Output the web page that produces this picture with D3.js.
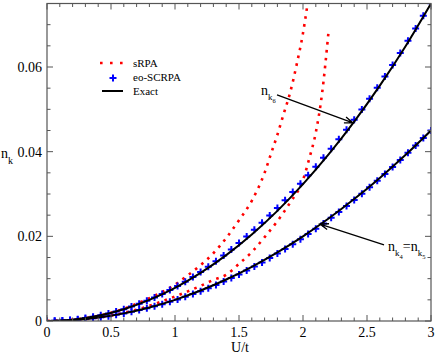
<!DOCTYPE html>
<html lang="en">
<head>
  <meta charset="UTF-8">
  <title>n_k vs U/t</title>
  <script src="https://d3js.org/d3.v7.min.js"></script>
  <style>
    body {
      margin: 0;
      background: #fff;
    }
    svg {
      font-family: "Liberation Serif", "Times New Roman", "DejaVu Serif", serif;
    }
    .tick-label {
      font-size: 14px;
    }
  </style>
</head>
<body>
  <svg width="436" height="354"></svg>

  <script>
    // exact curves, U/t step 0.2
    const uExact = [0, 0.2, 0.4, 0.6, 0.8, 1.0, 1.2, 1.4, 1.6, 1.8, 2.0, 2.2, 2.4, 2.6, 2.8, 3.0];
    const exactK6 = [0, 0.00031, 0.00123, 0.00279, 0.00499, 0.00784, 0.01136, 0.01555, 0.02044,
                     0.02602, 0.03232, 0.03934, 0.04709, 0.05559, 0.06485, 0.075];
    const exactK4 = [0, 0.0002, 0.0008, 0.0018, 0.0032, 0.005, 0.0072, 0.0098, 0.0128,
                     0.0162, 0.02, 0.0242, 0.0288, 0.0338, 0.0392, 0.045];

    // eo-SCRPA markers, U/t step 0.06
    const uEo = [0, 0.06, 0.12, 0.18, 0.24, 0.30, 0.36, 0.42, 0.48, 0.54, 0.60, 0.66, 0.72, 0.78,
                 0.84, 0.90, 0.96, 1.02, 1.08, 1.14, 1.20, 1.26, 1.32, 1.38, 1.44, 1.50, 1.56,
                 1.62, 1.68, 1.74, 1.80, 1.86, 1.92, 1.98, 2.04, 2.10, 2.16, 2.22, 2.28, 2.34,
                 2.40, 2.46, 2.52, 2.58, 2.64, 2.70, 2.76, 2.82, 2.88, 2.94, 3.00];
    const eoK6 = [0, 0.00003, 0.00011, 0.00025, 0.00044, 0.00069, 0.001, 0.00136, 0.00178,
                  0.00226, 0.0028, 0.0034, 0.00406, 0.00478, 0.00556, 0.0064, 0.0073, 0.00827,
                  0.0093, 0.0104, 0.01157, 0.01281, 0.01411, 0.01547, 0.0169, 0.0184, 0.01995,
                  0.02155, 0.02322, 0.02494, 0.02672, 0.02855, 0.03045, 0.0324, 0.0344, 0.03645,
                  0.03855, 0.0407, 0.04292, 0.0452, 0.04753, 0.04995, 0.0525, 0.0551, 0.05775,
                  0.0605, 0.0633, 0.0662, 0.0691, 0.0721, 0.07505];
    const eoK4 = [0, 0.00002, 0.00007, 0.00016, 0.00029, 0.00045, 0.00065, 0.00088, 0.00115,
                  0.00146, 0.0018, 0.00217, 0.00257, 0.003, 0.00347, 0.00398, 0.00452, 0.0051,
                  0.00571, 0.00636, 0.00704, 0.00776, 0.00852, 0.00931, 0.01014, 0.01101,
                  0.01192, 0.01286, 0.01384, 0.01486, 0.01592, 0.01701, 0.01815, 0.01932,
                  0.02053, 0.02178, 0.02306, 0.02439, 0.02575, 0.02715, 0.02859, 0.03007,
                  0.03158, 0.03313, 0.03472, 0.03635, 0.03802, 0.03972, 0.04147, 0.04323, 0.045];

    // sRPA curves
    const uSrpaK6 = [0, 0.2, 0.4, 0.6, 0.8, 1.0, 1.1, 1.2, 1.3, 1.4, 1.5, 1.6, 1.7, 1.75, 1.8,
                     1.85, 1.9, 1.95, 2.0, 2.05];
    const srpaK6 = [0, 0.0003, 0.0012, 0.0029, 0.0054, 0.0086, 0.0108, 0.0132, 0.016, 0.0196,
                    0.0238, 0.0284, 0.035, 0.0395, 0.044, 0.049, 0.054, 0.0605, 0.068, 0.078];
    const uSrpaK4 = [0, 0.2, 0.4, 0.6, 0.8, 1.0, 1.1, 1.2, 1.3, 1.4, 1.5, 1.6, 1.7, 1.8, 1.9,
                     2.0, 2.05, 2.1, 2.15, 2.2];
    const srpaK4 = [0, 0.0002, 0.0008, 0.0019, 0.0036, 0.0058, 0.007, 0.0083, 0.0097, 0.0109,
                    0.0135, 0.0163, 0.0198, 0.0236, 0.028, 0.0333, 0.0385, 0.0445, 0.054, 0.0685];

    const xTicks = [0, 0.5, 1, 1.5, 2, 2.5, 3];
    const yTicks = [0, 0.02, 0.04, 0.06];

    const svg = d3.select("svg");
    const x = d3.scaleLinear().domain([0, 3]).range([47, 431]);
    const y = d3.scaleLinear().domain([0, 0.075]).range([321, 3.5]);

    const zip = (us, vs) => us.map((u, i) => [u, vs[i]]);

    svg.append("clipPath").attr("id", "plot")
      .append("rect")
        .attr("x", x(0)).attr("y", y(0.075))
        .attr("width", x(3) - x(0)).attr("height", y(0) - y(0.075));

    const plot = svg.append("g").attr("clip-path", "url(#plot)");
    const line = d3.line().x(d => x(d[0])).y(d => y(d[1])).curve(d3.curveMonotoneX);

    // sRPA dotted
    [zip(uSrpaK6, srpaK6), zip(uSrpaK4, srpaK4)].forEach(pts => {
      plot.append("path")
        .attr("d", line(pts))
        .attr("fill", "none")
        .attr("stroke", "#ff0000")
        .attr("stroke-width", 2.6)
        .attr("stroke-dasharray", "2.6,5.4");
    });

    // eo-SCRPA plus markers
    [zip(uEo, eoK6), zip(uEo, eoK4)].forEach(pts => {
      plot.append("g").selectAll("path")
        .data(pts)
        .enter()
        .append("path")
          .attr("transform", d => `translate(${x(d[0])},${y(d[1])})`)
          .attr("d", "M-3.5,0H3.5M0,-3.5V3.5")
          .attr("stroke", "#0000ff")
          .attr("stroke-width", 2);
    });

    // Exact lines
    [zip(uExact, exactK6), zip(uExact, exactK4)].forEach(pts => {
      plot.append("path")
        .attr("d", line(pts))
        .attr("fill", "none")
        .attr("stroke", "#000")
        .attr("stroke-width", 2);
    });

    // Frame and ticks (inward, all four sides)
    const frame = "#555";
    svg.append("rect")
      .attr("x", x(0)).attr("y", y(0.075))
      .attr("width", x(3) - x(0)).attr("height", y(0) - y(0.075))
      .attr("fill", "none").attr("stroke", frame).attr("stroke-width", 1.2);

    const ax = svg.append("g").attr("stroke", frame).attr("stroke-width", 1);
    d3.range(0, 31).forEach(i => {
      const v = i / 10, len = i % 5 === 0 ? 6 : 3.5, px = x(v);
      ax.append("line").attr("x1", px).attr("x2", px).attr("y1", y(0)).attr("y2", y(0) - len);
      ax.append("line").attr("x1", px).attr("x2", px).attr("y1", y(0.075)).attr("y2", y(0.075) + len);
    });
    d3.range(0, 16).forEach(i => {
      const v = i * 0.005, len = i % 4 === 0 ? 6 : 3.5, py = y(v);
      ax.append("line").attr("x1", x(0)).attr("x2", x(0) + len).attr("y1", py).attr("y2", py);
      ax.append("line").attr("x1", x(3)).attr("x2", x(3) - len).attr("y1", py).attr("y2", py);
    });

    svg.selectAll(".xl").data(xTicks).enter().append("text")
      .attr("class", "tick-label")
      .attr("x", d => x(d)).attr("y", 337)
      .attr("text-anchor", "middle")
      .text(d => d);

    svg.selectAll(".yl").data(yTicks).enter().append("text")
      .attr("class", "tick-label")
      .attr("x", 42).attr("y", d => y(d) + 5)
      .attr("text-anchor", "end")
      .text(d => d === 0 ? "0" : d.toFixed(2));

    // Axis titles
    svg.append("text").attr("x", 240).attr("y", 352)
      .attr("text-anchor", "middle").style("font-size", "14px").text("U/t");

    const yt = svg.append("text").attr("x", 1).attr("y", 158).style("font-size", "14px");
    yt.append("tspan").text("n");
    yt.append("tspan").attr("dy", 6).style("font-size", "10px").text("k");

    // Legend
    const lg = svg.append("g");
    lg.append("line").attr("x1", 100).attr("x2", 124).attr("y1", 63).attr("y2", 63)
      .attr("stroke", "#ff0000").attr("stroke-width", 2.6).attr("stroke-dasharray", "2.6,7.4");
    lg.append("path").attr("transform", "translate(113,78)")
      .attr("d", "M-3.5,0H3.5M0,-3.5V3.5").attr("stroke", "#0000ff").attr("stroke-width", 2);
    lg.append("line").attr("x1", 102).attr("x2", 123).attr("y1", 91).attr("y2", 91)
      .attr("stroke", "#000").attr("stroke-width", 2);
    ["sRPA", "eo-SCRPA", "Exact"].forEach((t, i) => {
      lg.append("text").attr("x", 133).attr("y", 67 + i * 14)
        .style("font-size", "11px").text(t);
    });

    // Annotations with arrows
    function arrow(from, to) {
      const x1 = x(from[0]), y1 = y(from[1]), x2 = x(to[0]), y2 = y(to[1]);
      const a = Math.atan2(y2 - y1, x2 - x1), h = 9, s = 0.35;
      svg.append("path")
        .attr("d", `M${x1},${y1}L${x2},${y2}` +
          `M${x2 - h * Math.cos(a - s)},${y2 - h * Math.sin(a - s)}L${x2},${y2}` +
          `L${x2 - h * Math.cos(a + s)},${y2 - h * Math.sin(a + s)}`)
        .attr("fill", "none").attr("stroke", "#000").attr("stroke-width", 1.3);
    }
    arrow([1.797, 0.0534], [2.39, 0.0468]);
    arrow([2.633, 0.0180], [2.133, 0.0229]);

    function nk(g, xPos, yPos, sub) {
      const t = g.append("text").attr("x", xPos).attr("y", yPos).style("font-size", "14px");
      t.append("tspan").text("n");
      t.append("tspan").attr("dy", 5).style("font-size", "9px").text("k");
      t.append("tspan").attr("dy", 3).style("font-size", "6.5px").text(sub);
      return t;
    }
    nk(svg, 261, 95, "6");
    const t2 = nk(svg, 388, 251, "4");
    t2.append("tspan").attr("dy", -8).style("font-size", "14px").text("=n");
    t2.append("tspan").attr("dy", 5).style("font-size", "9px").text("k");
    t2.append("tspan").attr("dy", 3).style("font-size", "6.5px").text("5");
  </script>
</body>
</html>
